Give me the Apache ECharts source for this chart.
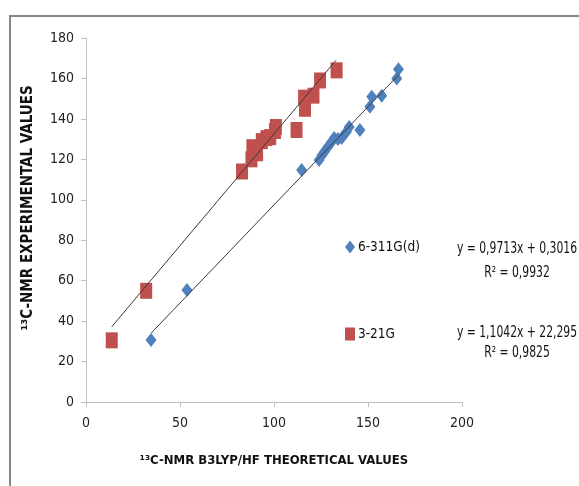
<!DOCTYPE html>
<html>
<head>
<meta charset="utf-8">
<script src="https://cdn.jsdelivr.net/npm/echarts@6/dist/echarts.min.js"></script>
<style>
  html, body { margin: 0; padding: 0; background: #fff; }
  #chart { width: 579px; height: 486px; }
</style>
</head>
<body>
<div id="chart"></div>
<script>
// data: [theoretical, experimental]
const basisNames = ['6-311G(d)', '3-21G']
const points6311 = [
  [34.6, 30.7], [53.7, 55.4], [114.7, 114.7], [124, 119.7], [125.5, 122],
  [127, 124], [128.5, 126], [130.5, 128.5], [132, 130.5], [134, 130],
  [136, 130.5], [138.5, 133.5], [140, 136], [145.7, 134.5], [151, 146],
  [152, 151], [157.3, 151.5], [165.3, 160], [166.2, 164.5]
]
const points321 = [
  [13.7, 30.5], [32, 55], [83, 114], [88, 120], [88.5, 126], [91, 123],
  [93.5, 129], [96, 130.5], [98, 131], [100.5, 134], [101, 136],
  [112, 134.5], [116.5, 145], [116, 150.5], [121, 151.5], [124.5, 159],
  [133.3, 164]
]
// trendline end points
const trend6311 = [[34.6, 34], [166.5, 162]]
const trend321 = [[13.7, 37.2], [133, 169]]
const eqText6311 = ['y = 0,9713x + 0,3016', 'R² = 0,9932']
const eqText321 = ['y = 1,1042x + 22,295', 'R² = 0,9825']
const xTicks = [0, 50, 100, 150, 200]
const yTicks = [0, 20, 40, 60, 80, 100, 120, 140, 160, 180]

const font = "'Liberation Sans Narrow', 'DejaVu Sans Condensed', sans-serif"
const chart = echarts.init(document.getElementById('chart'))

const axisCommon = {
  type: 'value',
  axisLine: { show: true, lineStyle: { color: '#bfbfbf', width: 1 } },
  axisTick: { show: true, length: 5, lineStyle: { color: '#bfbfbf' } },
  splitLine: { show: false },
  axisLabel: { color: '#222', fontSize: 14, fontFamily: font },
  nameLocation: 'middle',
  nameTextStyle: { color: '#111', fontSize: 13, fontWeight: 'bold', fontFamily: font }
}

// equation labels, squeezed sideways like the narrow office font
const eqLabel = (x, y, text) => ({
  type: 'text', x: x, y: y, scaleX: 0.8,
  style: { text: text, textAlign: 'center', textVerticalAlign: 'middle', fill: '#111', font: '15px ' + font }
})

const option = {
  backgroundColor: '#fff',
  animation: false,
  grid: { left: 86, right: 117, top: 38, bottom: 84 },
  xAxis: {
    ...axisCommon,
    min: xTicks[0], max: xTicks[xTicks.length - 1], interval: 50,
    name: '¹³C-NMR B3LYP/HF THEORETICAL VALUES',
    nameGap: 52,
    axisLabel: { ...axisCommon.axisLabel, margin: 14 }
  },
  yAxis: {
    ...axisCommon,
    min: yTicks[0], max: yTicks[yTicks.length - 1], interval: 20,
    name: '¹³C-NMR EXPERIMENTAL VALUES',
    nameGap: 50,
    nameTextStyle: { ...axisCommon.nameTextStyle, fontSize: 15, padding: [0, 0, 0, 24] },
    axisLabel: { ...axisCommon.axisLabel, margin: 12 }
  },
  legend: {
    orient: 'vertical',
    left: 340,
    top: 235,
    itemGap: 73,
    itemWidth: 10,
    itemHeight: 13,
    textStyle: { color: '#111', fontSize: 13.5, fontFamily: font, padding: [0, 0, 0, -2] },
    data: [
      { name: basisNames[0], icon: 'diamond' },
      { name: basisNames[1], icon: 'rect' }
    ]
  },
  graphic: [
    {
      type: 'rect', silent: true, z: -1,
      shape: { x: 10, y: 16, width: 620, height: 520 },
      style: { fill: 'none', stroke: '#878787', lineWidth: 2 }
    },
    eqLabel(517, 249, eqText6311[0]),
    eqLabel(517, 273, eqText6311[1]),
    eqLabel(517, 333, eqText321[0]),
    eqLabel(517, 353, eqText321[1])
  ],
  series: [
    {
      name: basisNames[0],
      type: 'scatter',
      symbol: 'diamond',
      symbolSize: [11, 14],
      itemStyle: { color: '#4f81bd', opacity: 1 },
      data: points6311,
      z: 2
    },
    {
      name: basisNames[1],
      type: 'scatter',
      symbol: 'rect',
      symbolSize: [12, 16],
      itemStyle: { color: '#c0504d', opacity: 1 },
      data: points321,
      z: 2
    },
    {
      name: 'trend6311',
      type: 'line',
      data: trend6311,
      symbol: 'none',
      silent: true,
      lineStyle: { color: '#3a3a3a', width: 1 },
      z: 3
    },
    {
      name: 'trend321',
      type: 'line',
      data: trend321,
      symbol: 'none',
      silent: true,
      lineStyle: { color: '#3a3a3a', width: 1 },
      z: 3
    }
  ]
}

chart.setOption(option)
</script>
</body>
</html>
